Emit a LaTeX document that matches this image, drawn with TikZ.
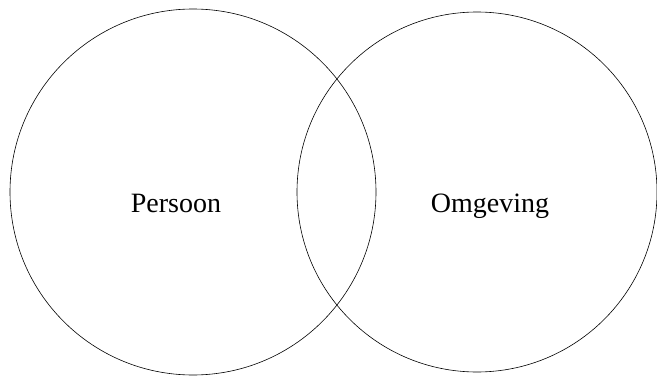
\documentclass[tikz,border=0pt]{standalone}
\usepackage{fontspec}
\setmainfont{Liberation Serif}
\begin{document}
\begin{tikzpicture}[x=1pt,y=1pt,
  ring/.style={draw=black,line width=0.6pt},
  label/.style={font=\fontsize{28}{32}\selectfont,inner sep=0pt,anchor=base}]
\useasboundingbox (0,0) rectangle (657,376);
\node[ring,circle,minimum size=366pt,inner sep=0pt] (persoon) at (193,184) {};
\node[ring,circle,minimum size=360pt,inner sep=0pt] (omgeving) at (477,184) {};
\node[label] (tp) at (176,164) {Persoon};
\node[label] (to) at (490,164) {Omgeving};
\end{tikzpicture}
\end{document}
